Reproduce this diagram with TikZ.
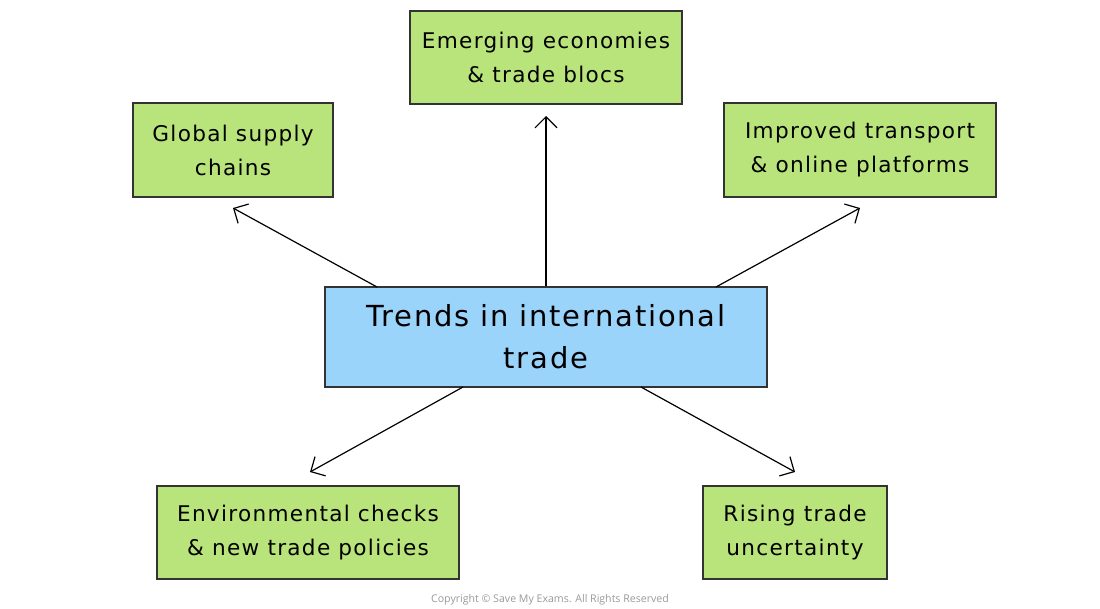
\documentclass[tikz,border=0pt]{standalone}
\usepackage{fontspec}
\setmainfont{DejaVu Sans}[LetterSpace=6]
\newfontfamily\copyfont{Open Sans}
\usetikzlibrary{arrows.meta}
\definecolor{boxgreen}{HTML}{B9E37B}
\definecolor{boxblue}{HTML}{9BD4FA}
\definecolor{edgegray}{HTML}{333333}
\tikzset{
  leaf/.style={draw=edgegray, line width=1.2pt, fill=boxgreen, inner sep=0pt, align=center, font=\fontsize{21.6}{34}\selectfont},
  hub/.style={draw=edgegray, line width=1.2pt, fill=boxblue, inner sep=0pt, align=center, font=\fontsize{29}{42}\selectfont},
  link/.style={line width=1.2pt, -{Straight Barb[length=11pt,width=22pt,line width=1.2pt]}}
}
\begin{document}
\begin{tikzpicture}[x=1pt,y=-1pt]
\useasboundingbox (0,0) rectangle (1100,609);
\node[hub, minimum width=442pt, minimum height=100pt] (c) at (546,337) {Trends in international\\trade};
\node[leaf, minimum width=272pt, minimum height=93pt] (t) at (546,57.5) {Emerging economies\\\& trade blocs};
\node[leaf, minimum width=200pt, minimum height=94pt] (g) at (233,150) {Global supply\\chains};
\node[leaf, minimum width=272pt, minimum height=94pt] (i) at (860,150) {Improved transport\\\& online platforms};
\node[leaf, minimum width=302pt, minimum height=93pt] (e) at (308,532.5) {Environmental checks\\\& new trade policies};
\node[leaf, minimum width=184pt, minimum height=93pt] (r) at (795,532.5) {Rising trade\\uncertainty};
\coordinate (tEnd) at (546,116);
\coordinate (gEnd) at (233,208);
\coordinate (iEnd) at (860,208);
\coordinate (eEnd) at (310,472);
\coordinate (rEnd) at (795,472);
\coordinate (gStart) at (377,287);
\coordinate (iStart) at (716,287);
\coordinate (eStart) at (463,387);
\coordinate (rStart) at (641,387);
\draw[link] (c.north) -- (tEnd);
\draw[link] (gStart) -- (gEnd);
\draw[link] (iStart) -- (iEnd);
\draw[link] (eStart) -- (eEnd);
\draw[link] (rStart) -- (rEnd);
\node[font=\copyfont\fontsize{10.6}{12}\selectfont, text=gray!80] (copy) at (550,600) {Copyright © Save My Exams. All Rights Reserved};
\end{tikzpicture}
\end{document}
